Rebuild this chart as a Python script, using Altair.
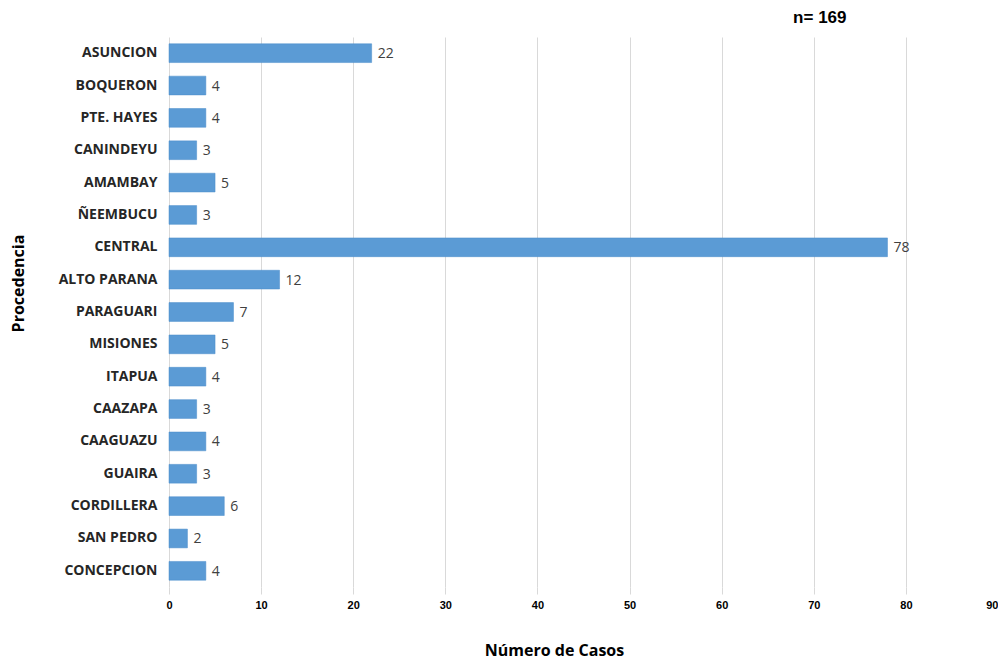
import altair as alt
import pandas as pd

categories = ["ASUNCION", "BOQUERON", "PTE. HAYES", "CANINDEYU", "AMAMBAY", "ÑEEMBUCU",
              "CENTRAL", "ALTO PARANA", "PARAGUARI", "MISIONES", "ITAPUA", "CAAZAPA",
              "CAAGUAZU", "GUAIRA", "CORDILLERA", "SAN PEDRO", "CONCEPCION"]
values = [22, 4, 4, 3, 5, 3, 78, 12, 7, 5, 4, 3, 4, 3, 6, 2, 4]
x_ticks = [0, 10, 20, 30, 40, 50, 60, 70, 80, 90]

df = pd.DataFrame({"Procedencia": categories, "Casos": values})

y_enc = alt.Y("Procedencia:N", sort=categories,
              scale=alt.Scale(paddingInner=0.42, paddingOuter=0.21),
              axis=alt.Axis(title="Procedencia", titleFont="Open Sans", titleFontSize=16,
                            titleFontWeight="bold", titleColor="#000000",
                            titleAngle=-90, titleX=-151, titleY=246,
                            titleAlign="center", titleBaseline="middle",
                            labelFont="Open Sans", labelFontSize=14, labelFontWeight="bold",
                            labelColor="#262626", labelPadding=12,
                            ticks=False, domain=False, grid=False))

x_enc = alt.X("Casos:Q", scale=alt.Scale(domain=[0, 90], nice=False),
              axis=alt.Axis(values=x_ticks, title="Número de Casos",
                            titleFont="Open Sans", titleFontSize=16, titleFontWeight="bold",
                            titleColor="#000000", titlePadding=32,
                            titleX=385, titleAlign="center",
                            labelFont="Liberation Sans Narrow, Arial Narrow, Liberation Sans",
                            labelFontSize=11, labelFontWeight="bold", labelColor="#000000",
                            labelPadding=5, labelFlush=False, labelOverlap=False,
                            labelAlign={"expr": "datum.value == 90 ? 'right' : 'center'"},
                            grid=True, gridColor="#d9d9d9", gridWidth=1,
                            tickColor="#d9d9d9", tickSize=7, domain=False))

bars = alt.Chart(df).mark_bar(color="#5B9BD5", stroke="#4a8ccb", strokeWidth=0.5).encode(
    x=x_enc, y=y_enc)

labels = alt.Chart(df).mark_text(align="left", baseline="middle", dx=6, dy=1,
                                 font="Open Sans", fontSize=14, color="#404040").encode(
    x="Casos:Q",
    y=alt.Y("Procedencia:N", sort=categories),
    text="Casos:Q")

chart = (bars + labels).properties(
    width=829, height=550,
    background="white",
    autosize=alt.AutoSizeParams(type="none"),
    padding={"left": 161, "top": 29, "right": 0, "bottom": 74},
    title=alt.TitleParams("n= 169", anchor="end", dx=-152, offset=10,
                          font="Liberation Sans", fontSize=17, fontWeight="bold",
                          color="#000000"),
).configure_view(stroke=None, strokeWidth=0)

chart.save("out.html", embed_options={"renderer": "svg", "actions": False})
